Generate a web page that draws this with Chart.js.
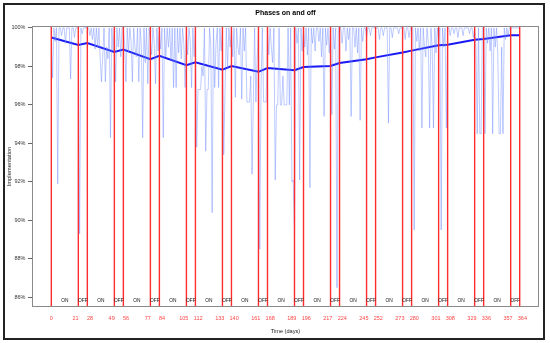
<!DOCTYPE html>
<html>
<head>
<meta charset="utf-8">
<script src="https://cdn.jsdelivr.net/npm/chart.js@4/dist/chart.umd.min.js"></script>
<style>
  html, body { margin: 0; padding: 0; background: #fff; }
  #wrap { width: 550px; height: 343px; }
</style>
</head>
<body>
<div id="wrap"><canvas id="chart" width="550" height="343"></canvas></div>
<script>
// Phase boundaries in days (21 days ON, 7 days OFF)
const phaseDays = [0, 21, 28, 49, 56, 77, 84, 105, 112, 133, 140, 161, 168, 189, 196,
    217, 224, 245, 252, 273, 280, 301, 308, 329, 336, 357, 364];

const phaseNames = ['ON', 'OFF', 'ON', 'OFF', 'ON', 'OFF', 'ON', 'OFF', 'ON', 'OFF', 'ON', 'OFF', 'ON',
    'OFF', 'ON', 'OFF', 'ON', 'OFF', 'ON', 'OFF', 'ON', 'OFF', 'ON', 'OFF', 'ON', 'OFF'];

// Implementation (%) at each phase boundary - the thick blue line
const trendValues = [99.5, 99.12, 99.22, 98.75, 98.88, 98.38, 98.55, 98.06, 98.22, 97.83, 98.02,
    97.72, 97.92, 97.8, 97.97, 98.02, 98.18, 98.37, 98.47, 98.72, 98.82, 99.1, 99.13,
    99.38, 99.42, 99.62, 99.62];

// Daily implementation (%), days 0..364, 28 days per row
const dailyValues = [
    100, 97.4, 100, 99.3, 100, 91.9, 100, 100, 99.6, 100, 100, 99.2, 100, 100, 100, 97.35, 100, 100, 99.5, 100, 100, 100, 89.3, 100, 99.7, 100, 100, 100,
    100, 100, 99.6, 100, 99.4, 100, 98.9, 100, 99.0, 100, 98.4, 97.2, 98.6, 100, 97.2, 99.0, 98.4, 100, 94.3, 100, 98.8, 100, 97.2, 100, 99.0, 100, 98.5, 100,
    100, 99.2, 97.2, 100, 98.7, 100, 99.3, 97.2, 100, 99.0, 98.5, 100, 97.2, 100, 99.1, 94.3, 100, 98.2, 100, 97.1, 100, 99.4, 98.6, 100, 99.2, 97.1, 100, 98.8,
    100, 98.9, 100, 94.3, 100, 98.5, 100, 99.0, 100, 98.3, 100, 96.9, 100, 96.9, 100, 98.7, 100, 98.4, 100, 99.2, 96.9, 100, 98.6, 100, 99.3, 96.9, 100, 98.5,
    100, 93.8, 96.8, 96.8, 96.8, 98.0, 97.5, 100, 93.6, 96.8, 96.8, 100, 99.0, 90.4, 100, 96.9, 99.2, 100, 96.9, 100, 98.8, 100, 93.4, 96.7, 100, 97.9, 100, 99.0,
    100, 98.5, 100, 96.4, 100, 99.0, 98.6, 100, 96.3, 100, 98.8, 100, 96.15, 96.15, 96.15, 97.5, 92.4, 96.2, 100, 96.15, 98.5, 100, 88.5, 97.0, 100, 96.15, 96.15, 96.15,
    100, 98.6, 100, 99.0, 98.2, 100, 92.1, 96.0, 96.0, 100, 96.0, 96.0, 97.5, 96.0, 96.0, 96.0, 100, 96.0, 100, 92.0, 92.1, 89.1, 100, 99.2, 100, 92.1, 100, 98.8,
    100, 99.0, 100, 98.6, 100, 91.7, 100, 99.2, 100, 98.8, 100, 100, 99.3, 100, 98.5, 100, 95.4, 100, 99.1, 100, 98.7, 100, 95.5, 100, 98.9, 100, 86.5, 100,
    100, 100, 99.2, 100, 100, 98.8, 100, 99.4, 100, 95.4, 100, 100, 99.0, 100, 98.7, 100, 95.2, 100, 99.3, 100, 100, 99.5, 100, 100, 99.6, 100, 100, 100,
    100, 100, 100, 99.4, 100, 100, 99.6, 100, 100, 100, 95.05, 100, 100, 99.5, 100, 100, 100, 100, 99.7, 100, 100, 100, 100, 99.4, 100, 100, 99.5, 100,
    100, 100, 89.5, 100, 99.3, 100, 98.8, 100, 94.8, 100, 99.0, 98.5, 100, 99.2, 94.8, 100, 99.0, 94.8, 100, 98.7, 100, 99.3, 100, 89.5, 100, 99.0, 100, 94.8,
    100, 100, 99.6, 100, 100, 99.7, 100, 100, 99.5, 100, 100, 100, 99.6, 100, 100, 100, 100, 99.7, 100, 100, 99.5, 100, 99.0, 94.5, 100, 94.5, 94.5, 100,
    100, 94.5, 100, 99.2, 100, 98.8, 100, 94.5, 100, 99.0, 100, 98.6, 94.5, 94.5, 99.0, 94.5, 100, 99.4, 100, 99.6, 100, 100, 100, 100, 100, 100, 100, 100,
    100
];

const yTicks = [86, 88, 90, 92, 94, 96, 98, 100];

const FONT = 'Liberation Sans, Arial, Helvetica, sans-serif';

// red phase lines go between the daily line and the trend line
const phasesPlugin = {
    id: 'phases',
    afterDatasetDraw(chart, args) {
        if (args.index !== 0) return;
        const { ctx, chartArea, scales: { x } } = chart;
        ctx.save();
        ctx.strokeStyle = 'rgb(255, 45, 45)';
        ctx.lineWidth = 1.4;
        phaseDays.forEach(d => {
            const px = x.getPixelForValue(d);
            ctx.beginPath();
            ctx.moveTo(px, chartArea.top);
            ctx.lineTo(px, chartArea.bottom);
            ctx.stroke();
        });
        ctx.restore();
    },
    afterDraw(chart) {
        const { ctx, chartArea, scales: { x } } = chart;
        ctx.save();

        // plot box
        ctx.strokeStyle = '#8a8a8a';
        ctx.lineWidth = 1;
        ctx.strokeRect(chartArea.left + 0.5, chartArea.top + 0.5,
            chartArea.right - chartArea.left - 1, chartArea.bottom - chartArea.top - 1);

        // ON / OFF labels in each phase
        ctx.fillStyle = '#111';
        ctx.font = '4.8px ' + FONT;
        ctx.textAlign = 'center';
        ctx.textBaseline = 'middle';
        phaseNames.forEach((name, i) => {
            const mid = (phaseDays[i] + phaseDays[i + 1]) / 2;
            ctx.fillText(name, x.getPixelForValue(mid), chartArea.bottom - 6.3);
        });

        // red day labels, nudged away from each other around the OFF phases
        ctx.fillStyle = 'rgb(255, 70, 70)';
        ctx.font = '5.5px ' + FONT;
        phaseDays.forEach((d, i) => {
            let shift = 0;
            if (i > 0) shift = (i % 2 === 1) ? -2.7 : 2.7;
            ctx.fillText(String(d), x.getPixelForValue(d) + shift, chartArea.bottom + 11);
        });

        // title
        ctx.fillStyle = '#000';
        ctx.font = 'bold 7px ' + FONT;
        ctx.fillText('Phases on and off', (chartArea.left + chartArea.right) / 2, 12.7);

        // outer frame
        ctx.strokeStyle = '#222';
        ctx.lineWidth = 2;
        ctx.strokeRect(4, 4, 540, 335);
        ctx.restore();
    }
};

function createPhasesChart() {
    const ctx = document.getElementById('chart').getContext('2d');

    new Chart(ctx, {
        type: 'line',
        data: {
            datasets: [
                {
                    label: 'Daily',
                    data: dailyValues.map((v, i) => ({ x: i, y: v })),
                    borderColor: 'rgba(110, 140, 255, 0.45)',
                    borderWidth: 1,
                    pointRadius: 0,
                    tension: 0
                },
                {
                    label: 'Phase average',
                    data: phaseDays.map((d, i) => ({ x: d, y: trendValues[i] })),
                    borderColor: 'rgb(25, 25, 245)',
                    borderWidth: 2,
                    pointRadius: 0,
                    tension: 0
                }
            ]
        },
        options: {
            responsive: false,
            animation: false,
            layout: {
                padding: { top: 26, right: 11, left: 0, bottom: 0 }
            },
            scales: {
                x: {
                    type: 'linear',
                    min: -15,
                    max: 379,
                    grid: { display: false },
                    border: { display: false },
                    ticks: { display: false },
                    title: {
                        display: true,
                        text: 'Time (days)',
                        color: '#222',
                        font: { family: FONT, size: 5.6 },
                        padding: { top: 0, bottom: 8.5 }
                    },
                    afterFit(scale) { scale.height = 36; }
                },
                y: {
                    min: 85.5,
                    max: 100.1,
                    grid: {
                        display: true,
                        drawOnChartArea: false,
                        drawTicks: true,
                        tickLength: 4,
                        color: '#666'
                    },
                    border: { display: false },
                    afterBuildTicks(scale) {
                        scale.ticks = yTicks.map(v => ({ value: v }));
                    },
                    ticks: {
                        color: '#333',
                        padding: 2.5,
                        font: { family: FONT, size: 5.5 },
                        callback: v => v + '%'
                    },
                    title: {
                        display: true,
                        text: 'Implementation',
                        color: '#222',
                        font: { family: FONT, size: 5.8 },
                        padding: { top: 5.8, bottom: 0 }
                    },
                    afterFit(scale) { scale.width = 32; }
                }
            },
            plugins: {
                legend: { display: false },
                title: { display: false },
                tooltip: { enabled: false }
            }
        },
        plugins: [phasesPlugin]
    });
}

createPhasesChart();
</script>
</body>
</html>
